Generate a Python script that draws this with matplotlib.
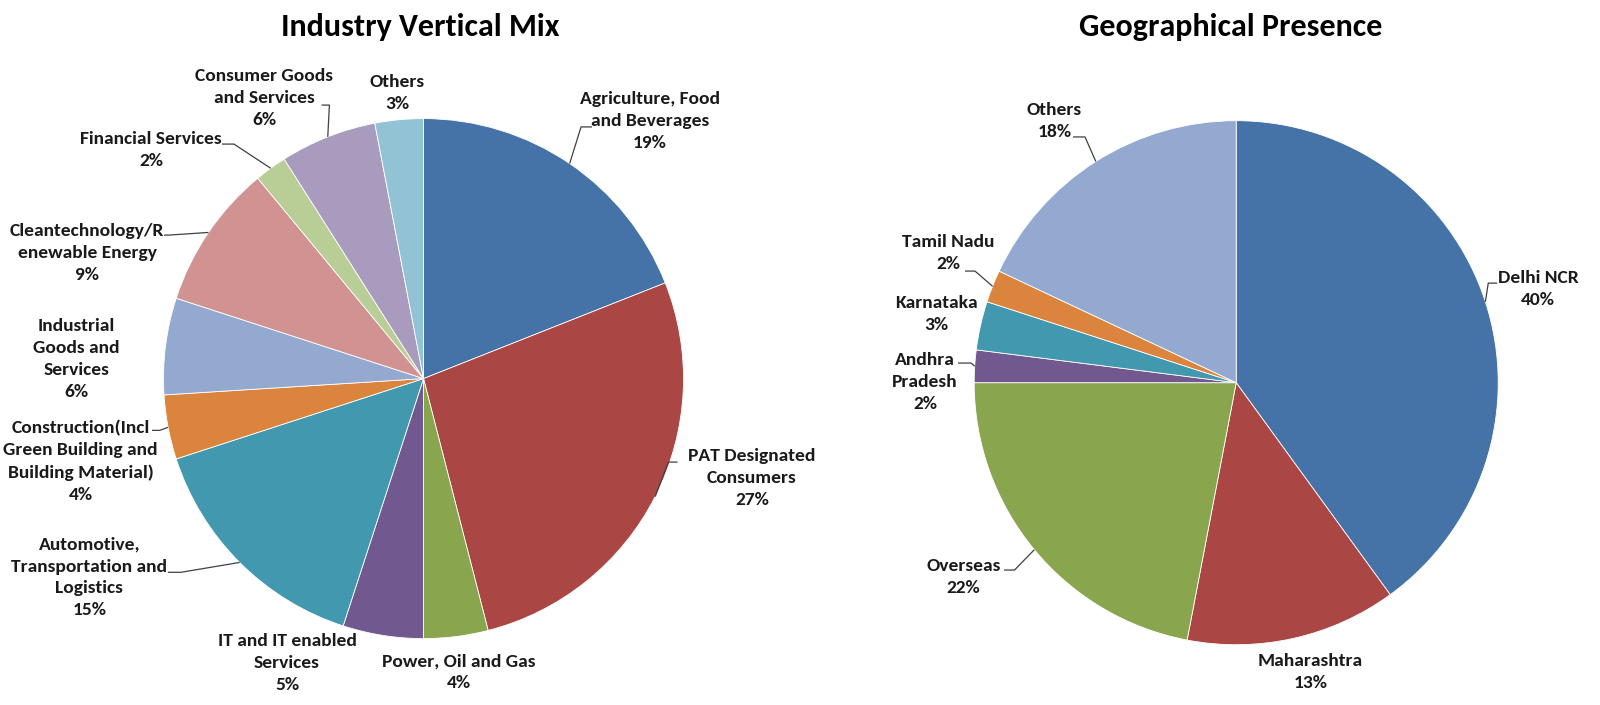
import numpy as np
import matplotlib
matplotlib.use("Agg")
import matplotlib.pyplot as plt
from matplotlib import font_manager

# ---- data ----
industry_labels = ["Agriculture, Food\nand Beverages", "PAT Designated\nConsumers",
                   "Power, Oil and Gas", "IT and IT enabled\nServices",
                   "Automotive,\nTransportation and\nLogistics",
                   "Construction(Incl\nGreen Building and\nBuilding Material)",
                   "Industrial\nGoods and\nServices", "Cleantechnology/R\nenewable Energy",
                   "Financial Services", "Consumer Goods\nand Services", "Others"]
industry_pct = [19, 27, 4, 5, 15, 4, 6, 9, 2, 6, 3]

geo_labels = ["Delhi NCR", "Maharashtra", "Overseas", "Andhra\nPradesh",
              "Karnataka", "Tamil Nadu", "Others"]
geo_pct = [40, 13, 22, 2, 3, 2, 18]

industry_colors = ["#4572A7", "#AA4643", "#89A54E", "#71588F", "#4198AF", "#DB843D",
                   "#93A9CF", "#D19392", "#B9CD96", "#A99BBD", "#92C3D5"]
geo_colors = ["#4572A7", "#AA4643", "#89A54E", "#71588F", "#4198AF", "#DB843D", "#93A9CF"]

# label layout, in units of pie radius relative to the centre
industry_label_pos = [(0.871, 0.992), (1.263, -0.382), (0.137, -1.130), (-0.525, -1.094),
                      (-1.285, -0.765), (-1.319, -0.317), (-1.335, 0.075), (-1.294, 0.484),
                      (-1.048, 0.879), (-0.613, 1.078), (-0.100, 1.100)]
# leader end near text (x, y, elbow dx) or None
industry_leaders = [(0.648, 0.968, -0.042), (0.977, -0.321, -0.035), None, None,
                    (-0.983, -0.745, 0.05), (-1.044, -0.199, 0.03), None,
                    (-0.998, 0.552, 0.02), (-0.775, 0.902, 0.046), (-0.392, 1.052, 0.03), None]

geo_label_pos = [(1.152, 0.358), (0.284, -1.106), (-1.041, -0.740), (-1.188, 0.003),
                 (-1.146, 0.264), (-1.100, 0.495), (-0.694, 0.999)]
geo_leaders = [(0.996, 0.380, -0.034), None, (-0.886, -0.715, 0.04), (-1.062, 0.075, 0.05),
               None, (-1.035, 0.426, 0.038), (-0.623, 0.938, 0.046)]

available = {f.name for f in font_manager.fontManager.ttflist}
FONT = next((f for f in ["Carlito", "Archivo Narrow", "Asap Condensed", "Open Sans"]
             if f in available), "DejaVu Sans")
plt.rcParams["font.family"] = [FONT, "DejaVu Sans"]

W, H = 1600, 705
fig = plt.figure(figsize=(W / 100, H / 100), dpi=100)
ax = fig.add_axes([0, 0, 1, 1])


def draw_pie(values, labels, colors, center, radius, label_pos, leaders, title, title_xy):
    wedges, _ = ax.pie(values, colors=colors, startangle=90, counterclock=False,
                       center=center, radius=radius, frame=True,
                       wedgeprops=dict(edgecolor="white", linewidth=0.6))
    cx, cy = center
    for w, lab, v, (rx, ry), ld in zip(wedges, labels, values, label_pos, leaders):
        ax.text(cx + rx * radius, cy + ry * radius, f"{lab}\n{v}%", ha="center", va="center",
                multialignment="center", fontsize=14, fontweight="bold", color="#1a1a1a",
                linespacing=1.46)
        if ld is None:
            continue
        mid = np.deg2rad((w.theta1 + w.theta2) / 2)
        ex, ey = cx + radius * np.cos(mid), cy + radius * np.sin(mid)
        ax_, ay_, dx = ld
        px, py = cx + ax_ * radius, cy + ay_ * radius
        ax.plot([ex, px + dx * radius, px], [ey, py, py], color="#404040", lw=0.9,
                solid_capstyle="butt")
    ax.text(title_xy[0], title_xy[1], title, ha="center", va="center",
            fontsize=23, fontweight="bold", color="black")


draw_pie(industry_pct, industry_labels, industry_colors, (423.5, H - 378.6), 260,
         industry_label_pos, industry_leaders, "Industry Vertical Mix", (420, H - 27))
draw_pie(geo_pct, geo_labels, geo_colors, (1236.2, H - 382.7), 262,
         geo_label_pos, geo_leaders, "Geographical Presence", (1231, H - 27))

ax.set_xlim(0, W)
ax.set_ylim(0, H)
ax.set_aspect("auto")
ax.axis("off")
fig.savefig("out.png", dpi=100, facecolor="white")
